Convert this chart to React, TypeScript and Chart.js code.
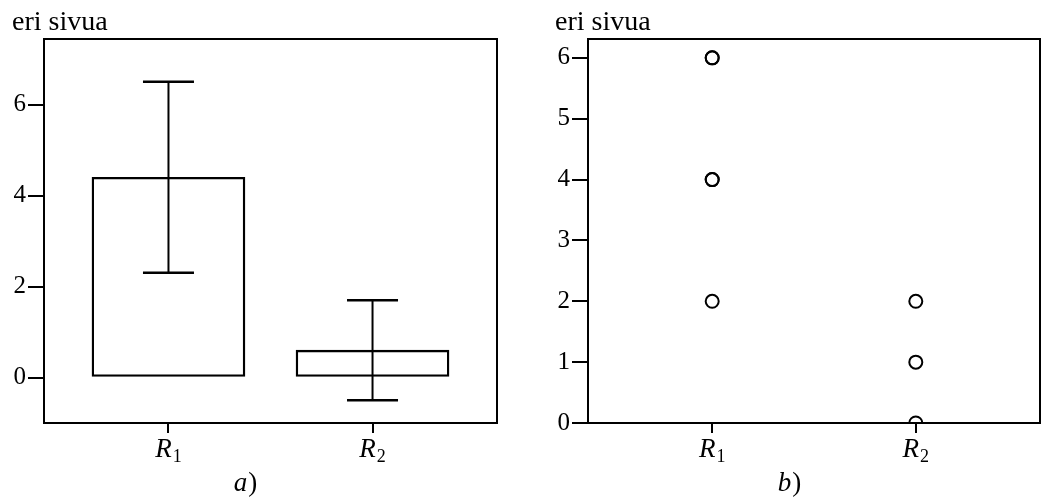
import React, { useEffect, useRef } from 'react';
import { Chart, registerables } from 'chart.js';
Chart.register(...registerables);

// ---- data ----
const categoryMain = ['R', 'R'];
const categorySub = ['1', '2'];
const categoryPos = [0, 1];
const barMeans = [4.4, 0.6];
const errLow = [2.3, -0.5];
const errHigh = [6.5, 1.7];
const leftTicks = [0, 2, 4, 6];
const r1Values = [6, 6, 4, 4, 2];
const r2Values = [2, 1, 0];
const rightTicks = [0, 1, 2, 3, 4, 5, 6];
const yTitle = 'eri sivua';
const captions = ['a', 'b'];

const FONT = '"Liberation Serif", "Times New Roman", serif';

function drawCatLabels(chart: any) {
  const ctx = chart.ctx;
  const xs = chart.scales.x;
  const baseY = chart.chartArea.bottom + 34;
  ctx.save();
  ctx.fillStyle = '#000';
  ctx.textBaseline = 'alphabetic';
  ctx.textAlign = 'left';
  categoryPos.forEach((v, i) => {
    const x = xs.getPixelForValue(v);
    ctx.font = `italic 27px ${FONT}`;
    const wm = ctx.measureText(categoryMain[i]).width;
    ctx.font = `18px ${FONT}`;
    const ws = ctx.measureText(categorySub[i]).width;
    const start = x - (wm + ws + 1) / 2;
    ctx.font = `italic 27px ${FONT}`;
    ctx.fillText(categoryMain[i], start, baseY);
    ctx.font = `18px ${FONT}`;
    ctx.fillText(categorySub[i], start + wm + 1, baseY + 5);
  });
  ctx.restore();
}

function drawCaption(ctx: any, text: string, cx: number, baseY: number) {
  ctx.save();
  ctx.fillStyle = '#000';
  ctx.textBaseline = 'alphabetic';
  ctx.textAlign = 'left';
  ctx.font = `italic 27px ${FONT}`;
  const w1 = ctx.measureText(text).width;
  ctx.font = `27px ${FONT}`;
  const w2 = ctx.measureText(')').width;
  const start = cx - (w1 + w2) / 2;
  ctx.font = `italic 27px ${FONT}`;
  ctx.fillText(text, start, baseY);
  ctx.font = `27px ${FONT}`;
  ctx.fillText(')', start + w1 + 1, baseY);
  ctx.restore();
}

function makeTextPlugin(titleX: number, captionX: number, caption: string) {
  return {
    id: 'texts',
    afterDraw(chart: any) {
      const ctx = chart.ctx;
      ctx.save();
      ctx.fillStyle = '#000';
      ctx.font = `28px ${FONT}`;
      ctx.textAlign = 'left';
      ctx.textBaseline = 'alphabetic';
      ctx.fillText(yTitle, titleX, 30);
      ctx.restore();
      drawCatLabels(chart);
      drawCaption(ctx, caption, captionX, 491);
    },
  };
}

const framePlugin = {
  id: 'frame',
  afterDatasetsDraw(chart: any) {
    const { ctx, chartArea } = chart;
    ctx.save();
    ctx.strokeStyle = '#000';
    ctx.lineWidth = 2;
    ctx.beginPath();
    ctx.moveTo(chartArea.left, chartArea.top);
    ctx.lineTo(chartArea.right, chartArea.top);
    ctx.lineTo(chartArea.right, chartArea.bottom);
    ctx.stroke();
    ctx.restore();
  },
};

const errorBarPlugin = {
  id: 'errbars',
  afterDatasetsDraw(chart: any) {
    const { ctx } = chart;
    const xs = chart.scales.x;
    const ys = chart.scales.y;
    ctx.save();
    ctx.strokeStyle = '#000';
    categoryPos.forEach((v, i) => {
      const x = xs.getPixelForValue(v);
      const yl = ys.getPixelForValue(errLow[i]);
      const yh = ys.getPixelForValue(errHigh[i]);
      ctx.lineWidth = 2;
      ctx.beginPath();
      ctx.moveTo(x, yl);
      ctx.lineTo(x, yh);
      ctx.stroke();
      ctx.lineWidth = 2.5;
      ctx.beginPath();
      ctx.moveTo(x - 25.5, yl);
      ctx.lineTo(x + 25.5, yl);
      ctx.moveTo(x - 25.5, yh);
      ctx.lineTo(x + 25.5, yh);
      ctx.stroke();
    });
    ctx.restore();
  },
};

function xScale() {
  return {
    type: 'linear',
    min: -0.61,
    max: 1.61,
    offset: false,
    afterBuildTicks: (s: any) => {
      s.ticks = categoryPos.map((v) => ({ value: v }));
    },
    afterFit: (s: any) => {
      s.height = 80;
    },
    grid: { offset: false, drawOnChartArea: false, drawTicks: true, tickLength: 10, color: '#000', lineWidth: 2 },
    border: { display: true, color: '#000', width: 2 },
    ticks: { callback: () => '', color: 'rgba(0,0,0,0)' },
  };
}

function yScale(min: number, max: number, ticks: number[], width: number) {
  return {
    type: 'linear',
    min,
    max,
    afterBuildTicks: (s: any) => {
      s.ticks = ticks.map((v) => ({ value: v }));
    },
    afterFit: (s: any) => {
      s.width = width;
    },
    grid: { drawOnChartArea: false, drawTicks: true, tickLength: 16, color: '#000', lineWidth: 2 },
    border: { display: true, color: '#000', width: 2 },
    ticks: { color: '#000', padding: 2, font: { family: FONT, size: 25 } },
  };
}

export default function App() {
  const leftRef = useRef<HTMLCanvasElement>(null);
  const rightRef = useRef<HTMLCanvasElement>(null);

  useEffect(() => {
    const left = new Chart(leftRef.current as any, {
      type: 'bar',
      data: {
        datasets: [
          {
            data: categoryPos.map((x, i) => ({ x, y: barMeans[i] })),
            backgroundColor: 'rgba(0,0,0,0)',
            borderColor: '#000',
            borderWidth: 1.7,
            borderSkipped: false,
            barThickness: 153,
          },
        ],
      },
      options: {
        responsive: false,
        animation: false,
        maintainAspectRatio: false,
        layout: { autoPadding: false, padding: { left: 0, right: 23, top: 39, bottom: 0 } },
        plugins: { legend: { display: false }, tooltip: { enabled: false } },
        scales: {
          x: xScale() as any,
          y: yScale(-1, 7.44, leftTicks, 44) as any,
        },
      },
      plugins: [framePlugin, errorBarPlugin, makeTextPlugin(12, 245, captions[0])],
    } as any);

    const pointStyle = {
      pointStyle: 'circle',
      pointRadius: 6.5,
      pointBorderWidth: 2,
      pointBackgroundColor: 'rgba(0,0,0,0)',
      pointBorderColor: '#000',
      showLine: false,
      clip: 0,
    };
    const right = new Chart(rightRef.current as any, {
      type: 'scatter',
      data: {
        datasets: [
          { data: r1Values.map((y) => ({ x: categoryPos[0], y })), ...pointStyle },
          { data: r2Values.map((y) => ({ x: categoryPos[1], y })), ...pointStyle },
        ],
      },
      options: {
        responsive: false,
        animation: false,
        maintainAspectRatio: false,
        layout: { autoPadding: false, padding: { left: 0, right: 1, top: 39, bottom: 0 } },
        plugins: { legend: { display: false }, tooltip: { enabled: false } },
        scales: {
          x: xScale() as any,
          y: yScale(0, 6.31, rightTicks, 68) as any,
        },
      },
      plugins: [framePlugin, makeTextPlugin(35, 269, captions[1])],
    } as any);

    return () => {
      left.destroy();
      right.destroy();
    };
  }, []);

  return (
    <div style={{ position: 'absolute', left: 0, top: 0, width: 1041, height: 503, background: '#fff' }}>
      <canvas
        ref={leftRef}
        width={520}
        height={503}
        style={{ position: 'absolute', left: 0, top: 0, width: 520, height: 503 }}
      />
      <canvas
        ref={rightRef}
        width={521}
        height={503}
        style={{ position: 'absolute', left: 520, top: 0, width: 521, height: 503 }}
      />
    </div>
  );
}
